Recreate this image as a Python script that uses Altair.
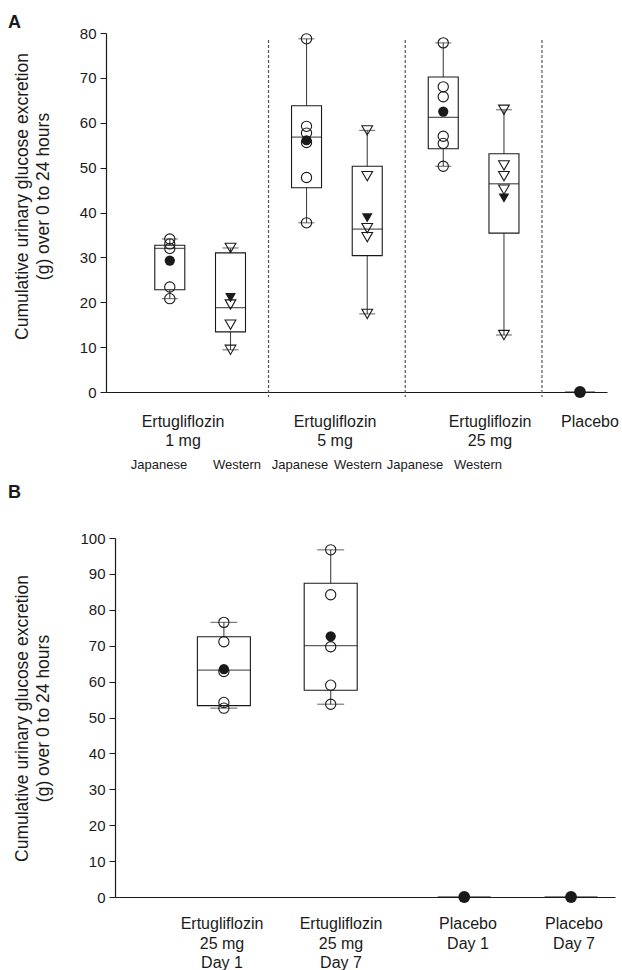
import altair as alt
import pandas as pd

FONT = "Liberation Sans"
INK = "#1a1a1a"

# ---------------- Panel A data ----------------
a_groups = ["J1", "W1", "J5", "W5", "J25", "W25", "Placebo"]
a_dose_slot = [0, 0, 1, 1, 2, 2, 3]
a_population = ["Japanese", "Western", "Japanese", "Western", "Japanese", "Western", "Placebo"]
a_min = [20.8, 9.4, 37.7, 17.4, 50.3, 12.7, 0.0]
a_q1 = [22.8, 13.4, 45.5, 30.4, 54.2, 35.4, 0.0]
a_median = [32.0, 18.8, 56.8, 36.3, 61.2, 46.4, 0.0]
a_q3 = [32.7, 31.0, 63.8, 50.3, 70.2, 53.1, 0.0]
a_max = [34.1, 32.1, 78.7, 58.3, 77.8, 62.9, 0.0]
a_mean = [29.3, 21.0, 56.1, 38.8, 62.5, 43.2, 0.0]
a_points = [
    [34.1, 33.0, 32.0, 23.4, 20.8],
    [32.1, 19.5, 15.0, 9.4],
    [78.7, 59.2, 57.7, 55.6, 47.8, 37.7],
    [58.3, 48.1, 36.5, 34.5, 17.4],
    [77.8, 68.0, 65.8, 57.0, 55.4, 50.3],
    [62.9, 50.5, 48.1, 45.1, 12.7],
    [],
]
a_yticks = [0, 10, 20, 30, 40, 50, 60, 70, 80]

# ---------------- Panel B data ----------------
b_groups = ["Ertugliflozin 25 mg Day 1", "Ertugliflozin 25 mg Day 7", "Placebo Day 1", "Placebo Day 7"]
b_slot = [0, 1, 2.25, 3.25]
b_population = ["Japanese", "Japanese", "Placebo", "Placebo"]
b_min = [52.6, 53.7, 0.0, 0.0]
b_q1 = [53.3, 57.6, 0.0, 0.0]
b_median = [63.2, 70.0, 0.0, 0.0]
b_q3 = [72.5, 87.4, 0.0, 0.0]
b_max = [76.5, 96.7, 0.0, 0.0]
b_mean = [63.5, 72.6, 0.0, 0.0]
b_points = [
    [76.5, 71.1, 62.8, 54.2, 52.6],
    [96.7, 84.2, 69.7, 59.0, 53.7],
    [],
    [],
]
b_yticks = [0, 10, 20, 30, 40, 50, 60, 70, 80, 90, 100]

Y_TITLE = ["Cumulative urinary glucose excretion", "(g) over 0 to 24 hours"]
SHAPES = {"Japanese": "circle", "Western": "triangle-down", "Placebo": "circle"}
WEST_OFFSET = 0.444


def build_frames(groups, slots, pops, mins, q1s, meds, q3s, maxs, means, pts):
    rows, prow = [], []
    for i, g in enumerate(groups):
        pos = slots[i] + (WEST_OFFSET if pops[i] == "Western" else 0.0)
        rows.append(dict(group=g, pos=pos, pop=pops[i], shape=SHAPES[pops[i]],
                         vmin=mins[i], q1=q1s[i], med=meds[i], q3=q3s[i],
                         vmax=maxs[i], mean=means[i],
                         msize=140 if pops[i] == "Placebo" else (115 if pops[i] == "Western" else 105)))
        for v in pts[i]:
            prow.append(dict(group=g, pos=pos, value=v, shape=SHAPES[pops[i]],
                             msize=115 if pops[i] == "Western" else 105))
    return pd.DataFrame(rows), pd.DataFrame(prow)


def text_layer(txt, px, py, size, weight="normal", align="center", baseline="top", lh=19):
    return alt.Chart(alt.Data(values=[{}])).mark_text(
        text=txt, lineBreak="\n", font=FONT, fontSize=size, fontWeight=weight,
        align=align, baseline=baseline, lineHeight=lh, color=INK,
    ).encode(x=alt.value(px), y=alt.value(py))


def panel(summary, points, xdomain, xrange, ydomain, yticks, box_w, cap_w, width, height,
          title_x, title_y, y_offset, extra):
    xs = alt.Scale(domain=xdomain, range=xrange, nice=False, zero=False)
    ys = alt.Scale(domain=ydomain, nice=False, zero=False)
    xax = alt.Axis(ticks=False, labels=False, title=None, grid=False,
                   domainColor=INK, domainWidth=1.2)
    yax = alt.Axis(values=yticks, tickSize=6, tickColor=INK, domainColor=INK,
                   domainWidth=1.2, labelFontSize=15, labelColor=INK, labelFont=FONT,
                   labelPadding=4, grid=False, title=Y_TITLE, titleFont=FONT,
                   titleFontSize=17.5, titleFontWeight="normal", titleColor=INK,
                   titleLineHeight=21, titleX=title_x, titleY=title_y, offset=y_offset)
    X = alt.X("pos:Q", scale=xs, axis=xax)

    non_pl = alt.Chart(summary).transform_filter("datum.pop != 'Placebo'")
    base = alt.Chart(summary)

    whisk = non_pl.mark_rule(color="#444", strokeWidth=1.1).encode(
        x=X, y=alt.Y("vmin:Q", scale=ys, axis=yax), y2="vmax:Q")
    cap_lo = non_pl.mark_tick(orient="horizontal", size=cap_w, thickness=1.1, color="#333").encode(
        x=X, y=alt.Y("vmin:Q", scale=ys, axis=yax))
    cap_hi = non_pl.mark_tick(orient="horizontal", size=cap_w, thickness=1.1, color="#333").encode(
        x=X, y=alt.Y("vmax:Q", scale=ys, axis=yax))
    box = non_pl.mark_bar(size=box_w, fill="white", stroke=INK, strokeWidth=1.1).encode(
        x=X, y=alt.Y("q1:Q", scale=ys, axis=yax), y2="q3:Q")
    med = base.mark_tick(orient="horizontal", thickness=1.3, color=INK).encode(
        x=X, y=alt.Y("med:Q", scale=ys, axis=yax),
        size=alt.value(box_w))
    pts = alt.Chart(points).mark_point(filled=False, strokeWidth=1.1, color=INK, opacity=1).encode(
        x=X, y=alt.Y("value:Q", scale=ys, axis=yax),
        shape=alt.Shape("shape:N", scale=None),
        size=alt.Size("msize:Q", scale=None))
    mean = base.mark_point(filled=True, color=INK, opacity=1).encode(
        x=X, y=alt.Y("mean:Q", scale=ys, axis=yax),
        shape=alt.Shape("shape:N", scale=None),
        size=alt.Size("msize:Q", scale=None))
    layers = extra["before"] + [whisk, cap_lo, cap_hi, box, med, pts, mean] + extra["after"]
    return alt.layer(*layers).properties(width=width, height=height)


sumA, ptsA = build_frames(a_groups, a_dose_slot, a_population, a_min, a_q1, a_median,
                          a_q3, a_max, a_mean, a_points)
sumB, ptsB = build_frames(b_groups, b_slot, b_population, b_min, b_q1, b_median,
                          b_q3, b_max, b_mean, b_points)

A_XDOMAIN = [-0.43, 3.161]
# dashed separators between dose groups (midway between Western of one dose and next group)
sep_pos = [k + (WEST_OFFSET + 1.0) / 2 for k in range(3)]
sepA = alt.Chart(pd.DataFrame({"pos": sep_pos})).mark_rule(
    color="#555", strokeWidth=1.2, strokeDash=[3, 2]).encode(
    x=alt.X("pos:Q", scale=alt.Scale(domain=A_XDOMAIN, range=[0, 501], nice=False, zero=False),
            axis=alt.Axis(ticks=False, labels=False, title=None, grid=False, domainColor=INK)),
    y=alt.value(7), y2=alt.value(364))

textsA = [
    text_layer("A", -98, -10, 18, weight="bold", align="left", baseline="middle"),
    text_layer("Ertugliflozin\n1 mg", 77, 381, 16),
    text_layer("Ertugliflozin\n5 mg", 229, 381, 16),
    text_layer("Ertugliflozin\n25 mg", 384, 381, 16),
    text_layer("Placebo", 484, 381, 16),
    text_layer("Japanese", 53, 432, 13, baseline="middle"),
    text_layer("Western", 131, 432, 13, baseline="middle"),
    text_layer("Japanese", 194, 432, 13, baseline="middle"),
    text_layer("Western", 252, 432, 13, baseline="middle"),
    text_layer("Japanese", 309, 432, 13, baseline="middle"),
    text_layer("Western", 372, 432, 13, baseline="middle"),
]

chartA = panel(sumA, ptsA, A_XDOMAIN, [0, 501], [0, 80], a_yticks, 30, 16, 501, 359,
               -75, 163, 0, {"before": [sepA], "after": textsA})

textsB = [
    text_layer("B", -98, -45, 18, weight="bold", align="left", baseline="middle"),
    text_layer("Ertugliflozin\n25 mg\nDay 1", 116, 378, 16, lh=19.5),
    text_layer("Ertugliflozin\n25 mg\nDay 7", 235, 378, 16, lh=19.5),
    text_layer("Placebo\nDay 1", 362, 378, 16, lh=19.5),
    text_layer("Placebo\nDay 7", 468, 378, 16, lh=19.5),
]

chartB = panel(sumB, ptsB, [-0.9725, 3.6147], [9, 509], [0, 100], b_yticks, 53, 27, 509, 359,
               -84, 180, -9, {"before": [], "after": textsB})

chart = alt.concat(chartA, chartB, columns=1, spacing=12).properties(
    padding={"left": 8, "top": 14, "right": 0, "bottom": 0}
).configure(font=FONT).configure_view(stroke=None)

chart.save("out.html", embed_options={"renderer": "svg", "actions": False})
